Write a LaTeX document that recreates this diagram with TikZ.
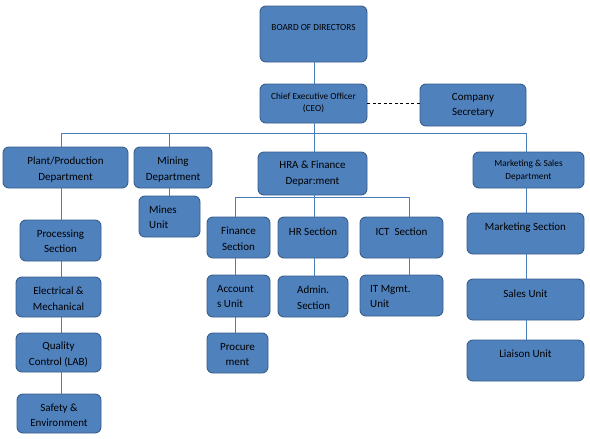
\documentclass[tikz,border=0pt]{standalone}
\usepackage{fontspec}
\setmainfont{Carlito}
\definecolor{boxfill}{HTML}{4F81BD}
\definecolor{boxline}{HTML}{385D8A}
\definecolor{connc}{HTML}{4A7EBB}
\newcommand\obox[5]{\node[obx, minimum width={(#4-#2)*1pt}, minimum height={(#5-#3)*1pt}] (#1) at ({(#2+#4)/2},{(#3+#5)/2}) {};}
\begin{document}
\begin{tikzpicture}[x=1pt,y=-1pt,
  obx/.style={draw=boxline, fill=boxfill, line width=0.9pt, rounded corners=6pt, inner sep=0pt},
  txt/.style={inner sep=0pt, align=center, font=\fontsize{11}{15.5}\selectfont, text=black},
  stxt/.style={txt, font=\fontsize{9.3}{12.5}\selectfont},
  ltxt/.style={txt, align=left, anchor=west},
  conn/.style={draw=connc, line width=0.8pt},
  dconn/.style={draw=black, line width=0.7pt, dash pattern=on 3pt off 2.5pt}]
\useasboundingbox (0,0) rectangle (590,439);
% coordinates for connector columns
\coordinate (xa) at (61,133);
\coordinate (xm) at (169,133);
\coordinate (xh) at (314,133);
\coordinate (xk) at (526,133);
\coordinate (xf) at (235,197);
\coordinate (xi) at (409,197);
% boxes
\obox{board}{260}{6}{367}{62}
\obox{ceo}{260}{84}{367}{123}
\obox{cs}{420}{84}{526}{126}
\obox{plant}{3}{147}{128}{188}
\obox{mining}{134}{147}{212}{188}
\obox{hra}{258}{152}{367}{195}
\obox{ms}{473}{152}{584}{188}
\obox{mines}{139}{196}{200}{237}
\obox{proc}{20}{220}{101}{261}
\obox{fin}{207}{217}{270}{258}
\obox{hr}{278}{217}{348}{258}
\obox{ict}{360}{217}{443}{258}
\obox{mkt}{467}{213}{584}{254}
\obox{elec}{16}{277}{101}{317}
\obox{acc}{207}{275}{270}{317}
\obox{adm}{278}{276}{348}{317}
\obox{it}{360}{275}{443}{316}
\obox{sales}{467}{279}{584}{320}
\obox{qual}{16}{333}{101}{372}
\obox{procu}{207}{333}{268}{373}
\obox{liaison}{467}{340}{584}{381}
\obox{safety}{17}{394}{101}{433}
% texts
\node[stxt] (boardt) at (313.5,28) {BOARD OF DIRECTORS};
\node[stxt] (ceot) at (313.5,103) {Chief Executive Officer\\(CEO)};
\node[txt] (cst) at (473,105.5) {Company\\Secretary};
\node[txt] (plantt) at (65.5,169.7) {Plant/Production\\Department};
\node[txt] (miningt) at (173,169.7) {Mining\\Department};
\node[txt] (hrat) at (312.5,173.7) {HRA \& Finance\\Depar:ment};
\node[stxt] (mst) at (528.5,170.5) {Marketing \& Sales\\Department};
\node[ltxt] (minest) at (149,217.3) {Mines\\Unit};
\node[txt] (proct) at (60.5,241.5) {Processing\\Section};
\node[txt] (fint) at (238.5,239) {Finance\\Section};
\node[txt] (hrt) at (313,232) {HR Section};
\node[txt] (ictt) at (401.5,232) {ICT\ \ Section};
\node[txt] (mktt) at (525.5,227.3) {Marketing Section};
\node[txt] (elect) at (58.5,298.7) {Electrical \&\\Mechanical};
\node[ltxt] (acct) at (217,296.5) {Account\\s Unit};
\node[ltxt] (admt) at (297,297.5) {Admin.\\Section};
\node[ltxt] (itt) at (370,296.5) {IT Mgmt.\\Unit};
\node[txt] (salest) at (525.5,293.3) {Sales Unit};
\node[txt] (qualt) at (58.5,354.5) {Quality\\Control (LAB)};
\node[txt] (procut) at (237.5,354.5) {Procure\\ment};
\node[txt] (liaisont) at (525.5,354) {Liaison Unit};
\node[txt] (safetyt) at (59,415.3) {Safety \&\\Environment};
% connectors
\draw[conn] (board.south -| xh) -- (ceo.north -| xh);
\draw[dconn] (ceo.east) -- (ceo.east -| cs.west);
\draw[conn] (xa) -- (xk);
\draw[conn] (xa) -- (plant.north -| xa);
\draw[conn] (xm) -- (mining.north -| xm);
\draw[conn] (ceo.south -| xh) -- (hra.north -| xh);
\draw[conn] (xk) -- (ms.north -| xk);
% plant chain
\draw[conn] (plant.south -| xa) -- (proc.north -| xa);
\draw[conn] (proc.south -| xa) -- (elec.north -| xa);
\draw[conn] (elec.south -| xa) -- (qual.north -| xa);
\draw[conn] (qual.south -| xa) -- (safety.north -| xa);
% mining chain
\draw[conn] (mining.south -| xm) -- (mines.north -| xm);
% hra
\draw[conn] (xf) -- (xi);
\draw[conn] (hra.south -| xh) -- (hr.north -| xh);
\draw[conn] (xf) -- (fin.north -| xf);
\draw[conn] (xi) -- (ict.north -| xi);
\draw[conn] (fin.south -| xf) -- (acc.north -| xf);
\draw[conn] (acc.south -| xf) -- (procu.north -| xf);
\draw[conn] (hr.south -| xh) -- (adm.north -| xh);
\draw[conn] (ict.south -| xi) -- (it.north -| xi);
% marketing chain
\draw[conn] (ms.south -| xk) -- (mkt.north -| xk);
\draw[conn] (mkt.south -| xk) -- (sales.north -| xk);
\draw[conn] (sales.south -| xk) -- (liaison.north -| xk);
\end{tikzpicture}
\end{document}
